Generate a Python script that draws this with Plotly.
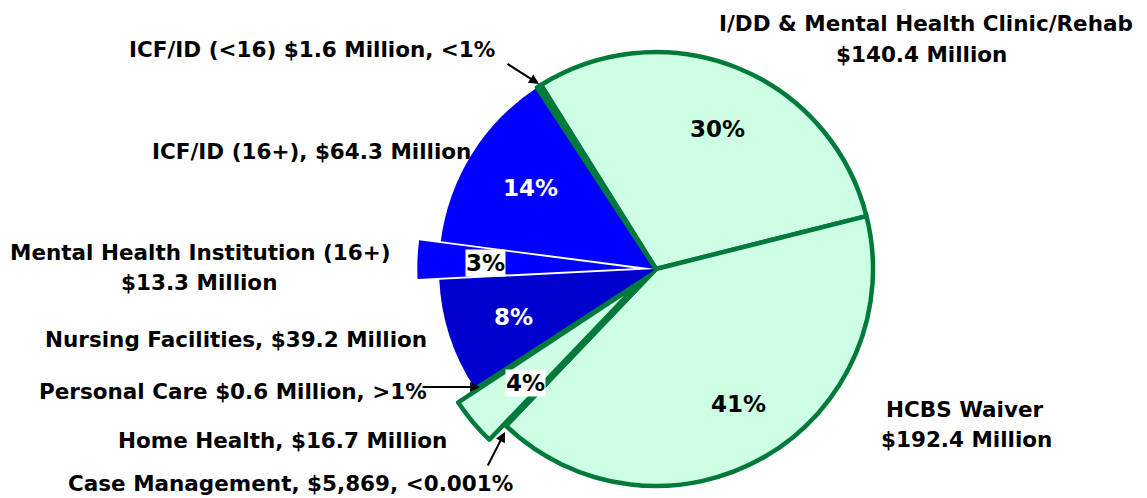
import math
import plotly.graph_objects as go

# ---------------- data ----------------
categories = [
    "I/DD & Mental Health Clinic/Rehab",
    "HCBS Waiver",
    "Case Management",
    "Home Health",
    "Personal Care",
    "Nursing Facilities",
    "Mental Health Institution (16+)",
    "ICF/ID (16+)",
    "ICF/ID (<16)",
]
values_million = [140.4, 192.4, 0.005869, 16.7, 0.6, 39.2, 13.3, 64.3, 1.6]
outside_labels = [
    ["I/DD & Mental Health Clinic/Rehab", "$140.4 Million"],
    ["HCBS Waiver", "$192.4 Million"],
    ["Case Management, $5,869, <0.001%"],
    ["Home Health, $16.7 Million"],
    ["Personal Care $0.6 Million, >1%"],
    ["Nursing Facilities, $39.2 Million"],
    ["Mental Health Institution (16+)", "$13.3 Million"],
    ["ICF/ID (16+), $64.3 Million"],
    ["ICF/ID (<16) $1.6 Million, <1%"],
]
pulled = ["Home Health", "Mental Health Institution (16+)"]

# ---------------- styles ----------------
W, H = 1147, 498
OFF = 8  # page body margin
MINT = "#CCFFE3"
GREEN = "#007A3A"
BLUE = "#0000FF"
NAVY = "#0000CC"
colors = [MINT, MINT, MINT, MINT, MINT, NAVY, BLUE, BLUE, MINT]
line_w = [4.5 if c == MINT else 0 for c in colors]
FONT = "DejaVu Sans, Liberation Sans, Arial, sans-serif"
FS = 21.5
FS_PCT = 23

CX, CY, R = 656 - OFF, 269 - OFF, 217
ROT = -32
PULL = 0.1


def dom(cx, cy, r):
    y0 = max(0.0, 1 - (cy + r) / H)
    y1 = min(1.0, 1 - (cy - r) / H)
    return dict(x=[(cx - r) / W, (cx + r) / W], y=[y0, y1])


total = sum(values_million)
fig = go.Figure()

# main pie (pulled slices left transparent)
main_colors = ["rgba(0,0,0,0)" if c in pulled else col for c, col in zip(categories, colors)]
main_lw = [0 if c in pulled else w for c, w in zip(categories, line_w)]
fig.add_trace(go.Pie(
    labels=categories, values=values_million, sort=False, direction="clockwise",
    rotation=ROT, textinfo="none", hoverinfo="label+value+percent", showlegend=False,
    marker=dict(colors=main_colors, line=dict(color=GREEN, width=main_lw)),
    domain=dom(CX, CY, R),
))

# pulled slices: same pie, shifted along the slice mid-angle
cum = 0.0
for cat, v in zip(categories, values_million):
    mid = ROT + (cum + v / 2) / total * 360
    cum += v
    if cat not in pulled:
        continue
    a = math.radians(mid)
    dx, dy = PULL * R * math.sin(a), -PULL * R * math.cos(a)
    cols = [col if c == cat else "rgba(0,0,0,0)" for c, col in zip(categories, colors)]
    lws = [w if c == cat else 0 for c, w in zip(categories, line_w)]
    fig.add_trace(go.Pie(
        labels=categories, values=values_million, sort=False, direction="clockwise",
        rotation=ROT, textinfo="none", hoverinfo="label+value+percent", showlegend=False,
        marker=dict(colors=cols, line=dict(color=GREEN, width=lws)),
        domain=dom(CX + dx, CY + dy, R),
    ))


def P(x, y):
    return (x - OFF) / W, 1 - (y - OFF) / H


ann = []


def text(x, y, s, color="black", bg=None, size=FS):
    xx, yy = P(x, y)
    d = dict(x=xx, y=yy, xref="paper", yref="paper", text="<b>%s</b>" % s, showarrow=False,
             xanchor="center", yanchor="middle",
             font=dict(family=FONT, size=size, color=color))
    if bg:
        d.update(bgcolor=bg, borderpad=0)
    ann.append(d)


def arrow(x0, y0, x1, y1):
    xx, yy = P(x1, y1)
    ann.append(dict(x=xx, y=yy, xref="paper", yref="paper", text="", showarrow=True,
                    ax=x0 - x1, ay=y0 - y1, arrowhead=2, arrowsize=1, arrowwidth=2,
                    arrowcolor="black"))


# outside labels (screen positions of label centres)
label_pos = {
    "I/DD & Mental Health Clinic/Rehab": [(926, 24), (921, 54)],
    "HCBS Waiver": [(965, 409), (966, 439)],
    "Case Management": [(290, 483)],
    "Home Health": [(282, 440)],
    "Personal Care": [(233, 391)],
    "Nursing Facilities": [(236, 339)],
    "Mental Health Institution (16+)": [(200, 252), (199, 282)],
    "ICF/ID (16+)": [(311, 151)],
    "ICF/ID (<16)": [(312, 50)],
}
for cat, lines in zip(categories, outside_labels):
    for (x, y), s in zip(label_pos[cat], lines):
        text(x, y, s)

# percentage labels
pct_pos = {
    "I/DD & Mental Health Clinic/Rehab": (717, 129, "black", None),
    "HCBS Waiver": (738, 404, "black", None),
    "Home Health": (525, 383, "black", "white"),
    "Nursing Facilities": (513, 317, "white", None),
    "Mental Health Institution (16+)": (485, 263, "black", "white"),
    "ICF/ID (16+)": (530, 188, "white", None),
}
for cat, v in zip(categories, values_million):
    if cat in pct_pos:
        x, y, c, bg = pct_pos[cat]
        text(x, y, "%d%%" % round(v / total * 100), color=c, bg=bg, size=FS_PCT)

arrow(506, 63, 539, 84)
arrow(421, 387, 480, 387)
arrow(487, 467, 505, 432)

fig.update_layout(
    width=W, height=H, margin=dict(l=0, r=0, t=0, b=0),
    paper_bgcolor="white", plot_bgcolor="white",
    annotations=ann,
)
fig.write_html("out.html")
